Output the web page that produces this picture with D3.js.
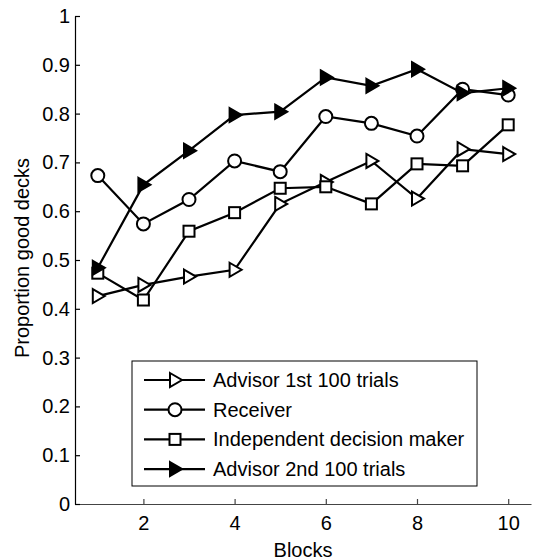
<!DOCTYPE html>
<html>
<head>
<meta charset="utf-8">
<script src="https://cdn.jsdelivr.net/npm/d3@7"></script>
<style>
  body { margin: 0; background: #fff; }
  svg { font-family: "Liberation Sans", Arial, sans-serif; }
</style>
</head>
<body>
<svg id="chart" width="533" height="560"></svg>
<script>
// data
var blocks = [1, 2, 3, 4, 5, 6, 7, 8, 9, 10];
var advisor1st = [0.426, 0.449, 0.466, 0.480, 0.615, 0.660, 0.703, 0.626, 0.727, 0.717];
var receiver = [0.673, 0.574, 0.624, 0.703, 0.681, 0.794, 0.780, 0.754, 0.850, 0.838];
var independent = [0.473, 0.418, 0.559, 0.597, 0.647, 0.650, 0.615, 0.697, 0.693, 0.777];
var advisor2nd = [0.484, 0.654, 0.724, 0.797, 0.804, 0.874, 0.857, 0.891, 0.842, 0.852];
var seriesNames = ["Advisor 1st 100 trials", "Receiver", "Independent decision maker", "Advisor 2nd 100 trials"];
var markers = ["triOpen", "circle", "square", "triFilled"];
var xTicks = [2, 4, 6, 8, 10];
var yTicks = [0, 0.1, 0.2, 0.3, 0.4, 0.5, 0.6, 0.7, 0.8, 0.9, 1];

var series = [advisor1st, receiver, independent, advisor2nd];

var svg = d3.select("svg#chart"),
    margin = {top: 16, right: 2, bottom: 56, left: 75},
    width = +svg.attr("width") - margin.left - margin.right,
    height = +svg.attr("height") - margin.top - margin.bottom;

var x = d3.scaleLinear().domain([0.5, 10.5]).range([0, width]);
var y = d3.scaleLinear().domain([0, 1]).range([height, 0]);

var g = svg.append("g")
  .attr("transform", "translate(" + margin.left + "," + margin.top + ")");

// axes, matlab style ticks pointing inward
var gx = g.append("g")
  .attr("transform", "translate(0," + height + ")")
  .call(d3.axisBottom(x).tickValues(xTicks).tickSizeInner(-5).tickSizeOuter(0).tickPadding(12).tickFormat(d3.format("d")));

var gy = g.append("g")
  .call(d3.axisLeft(y).tickValues(yTicks).tickSizeInner(-5).tickSizeOuter(0).tickPadding(5).tickFormat(function(d) { return d === 0 || d === 1 ? d : d3.format(".1f")(d); }));

gy.selectAll(".domain, .tick line").attr("stroke", "#000").attr("stroke-width", 1.2);
gx.selectAll(".domain, .tick line").attr("stroke", "#444").attr("stroke-width", 1.2);
g.selectAll(".tick text").attr("font-size", 20).attr("fill", "#000")
  .attr("font-family", "Liberation Sans, Arial, sans-serif");

svg.append("text")
  .attr("transform", "translate(29," + (margin.top + height / 2 - 2) + ") rotate(-90)")
  .attr("text-anchor", "middle")
  .attr("font-size", 20)
  .text("Proportion good decks");

svg.append("text")
  .attr("x", 303)
  .attr("y", 557)
  .attr("text-anchor", "middle")
  .attr("font-size", 20)
  .text("Blocks");

function drawMarker(sel, type) {
  if (type === "circle") {
    sel.append("circle").attr("r", 6.5).attr("fill", "#fff").attr("stroke", "#000").attr("stroke-width", 2);
  } else if (type === "square") {
    sel.append("rect").attr("x", -5.5).attr("y", -5.5).attr("width", 11).attr("height", 11)
      .attr("fill", "#fff").attr("stroke", "#000").attr("stroke-width", 2);
  } else {
    sel.append("path").attr("d", "M-5,-7L7,0L-5,7Z")
      .attr("fill", type === "triFilled" ? "#000" : "#fff")
      .attr("stroke", "#000").attr("stroke-width", 2).attr("stroke-linejoin", "miter");
  }
}

var line = d3.line()
  .x(function(d, i) { return x(blocks[i]); })
  .y(function(d) { return y(d); });

series.forEach(function(vals, k) {
  g.append("path")
    .datum(vals)
    .attr("fill", "none")
    .attr("stroke", "#000")
    .attr("stroke-width", 2.2)
    .attr("d", line);

  vals.forEach(function(v, i) {
    var m = g.append("g").attr("transform", "translate(" + x(blocks[i]) + "," + y(v) + ")");
    drawMarker(m, markers[k]);
  });
});

// legend
var legend = svg.append("g").attr("transform", "translate(132,361)");
legend.append("rect")
  .attr("width", 345).attr("height", 125)
  .attr("fill", "#fff").attr("stroke", "#000").attr("stroke-width", 1);

seriesNames.forEach(function(name, k) {
  var row = legend.append("g").attr("transform", "translate(0," + (19 + k * 29.7) + ")");
  row.append("line").attr("x1", 12).attr("x2", 73).attr("y1", 0).attr("y2", 0)
    .attr("stroke", "#000").attr("stroke-width", 2.2);
  var m = row.append("g").attr("transform", "translate(43,0)");
  drawMarker(m, markers[k]);
  row.append("text")
    .attr("x", 81).attr("y", 7)
    .attr("font-size", 20)
    .text(name);
});
</script>
</body>
</html>
